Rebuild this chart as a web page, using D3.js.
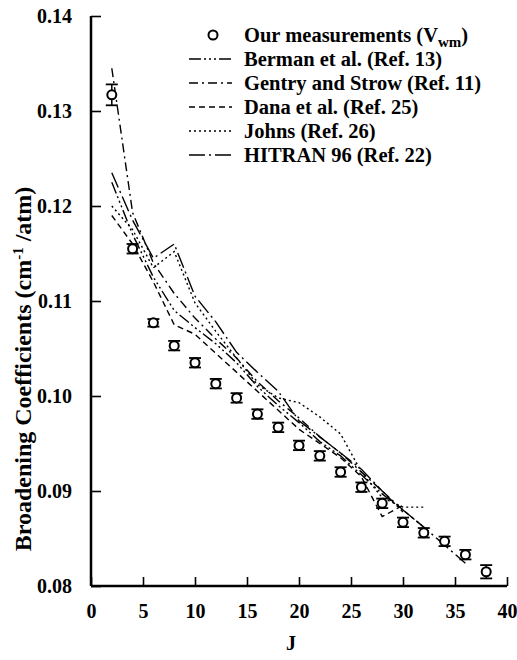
<!DOCTYPE html>
<html>
<head>
<meta charset="utf-8">
<script src="https://cdn.jsdelivr.net/npm/d3@7"></script>
<style>
  body { margin: 0; background: #fff; }
</style>
</head>
<body>
<svg width="517" height="660"></svg>
<script>
// measured points (V_wm)
var measJ = [2, 4, 6, 8, 10, 12, 14, 16, 18, 20, 22, 24, 26, 28, 30, 32, 34, 36, 38];
var measVal = [0.1317, 0.1155, 0.1077, 0.1053, 0.1035, 0.1013, 0.0998, 0.0981, 0.0967, 0.0948,
               0.0937, 0.0920, 0.0904, 0.0887, 0.0867, 0.0856, 0.0847, 0.0833, 0.0815];
var measErr = [0.0011, 0.0005, 0.0004, 0.0005, 0.0005, 0.0005, 0.0005, 0.0005, 0.0005, 0.0005,
               0.0005, 0.0005, 0.0005, 0.0005, 0.0005, 0.0005, 0.0005, 0.0005, 0.0007];

// other calculations / databases
var bermanJ = [2, 4, 6, 8, 10, 12, 14, 16, 18, 20, 22, 24, 26, 28, 30, 32];
var bermanVal = [0.1225, 0.1170, 0.1125, 0.1090, 0.1072, 0.1055, 0.1035, 0.1010, 0.0990, 0.0972,
                 0.0952, 0.0937, 0.0917, 0.0897, 0.0880, 0.0862];
var gentryJ = [2, 4, 6, 8, 10, 12, 14, 16, 18, 20, 22, 24, 26, 28, 30];
var gentryVal = [0.1345, 0.1193, 0.1140, 0.1108, 0.1082, 0.1060, 0.1040, 0.1015, 0.0995, 0.0977,
                 0.0957, 0.0940, 0.0920, 0.0900, 0.0878];
var danaJ = [2, 4, 6, 8, 10, 12, 14, 16, 18, 20, 22, 24, 26, 28, 30];
var danaVal = [0.1190, 0.1160, 0.1120, 0.1075, 0.1065, 0.1045, 0.1025, 0.1005, 0.0985, 0.0965,
               0.0950, 0.0935, 0.0915, 0.0873, 0.0885];
var johnsJ = [2, 4, 6, 8, 10, 12, 14, 16, 18, 20, 22, 24, 26, 28, 30, 32];
var johnsVal = [0.1200, 0.1175, 0.1135, 0.1152, 0.1098, 0.1068, 0.1040, 0.1012, 0.0998, 0.0993,
                0.0978, 0.0960, 0.0920, 0.0893, 0.0883, 0.0883];
var hitranJ = [2, 4, 6, 8, 10, 12, 14, 16, 18, 20, 22, 24, 26, 28, 30, 32, 34, 36];
var hitranVal = [0.1235, 0.1185, 0.1145, 0.1160, 0.1105, 0.1078, 0.1046, 0.1025, 0.1005, 0.0974,
                 0.0957, 0.0940, 0.0923, 0.0900, 0.0880, 0.0862, 0.0843, 0.0824];

var xTicks = [0, 5, 10, 15, 20, 25, 30, 35, 40];
var yTicks = [0.08, 0.09, 0.10, 0.11, 0.12, 0.13, 0.14];

var series = [
  {name: "Berman et al. (Ref. 13)", J: bermanJ, v: bermanVal, dash: "12,3,2,3,2,3,2,3"},
  {name: "Gentry and Strow (Ref. 11)", J: gentryJ, v: gentryVal, dash: "9,4,2,4"},
  {name: "Dana et al. (Ref. 25)", J: danaJ, v: danaVal, dash: "6,4"},
  {name: "Johns (Ref. 26)", J: johnsJ, v: johnsVal, dash: "2,3"},
  {name: "HITRAN 96 (Ref. 22)", J: hitranJ, v: hitranVal, dash: "16,4,2,4"}
];

var svg = d3.select("svg");
var FONT = "Liberation Serif";
var FS = 20;

var x = d3.scaleLinear().domain([0, 40]).range([91, 507]);
var y = d3.scaleLinear().domain([0.08, 0.14]).range([586, 16]);

// axes
svg.append("g")
    .attr("transform", "translate(0,586)")
    .call(d3.axisBottom(x).tickValues(xTicks).tickSize(-9).tickPadding(18).tickFormat(d3.format("d")))
    .call(function(g) {
      g.select(".domain").attr("stroke-width", 2.5).attr("d", "M91,0H507");
      g.selectAll(".tick line").attr("stroke-width", 1.6);
      g.selectAll(".tick text").attr("font-family", FONT).attr("font-weight", "bold")
          .attr("font-size", FS).attr("fill", "#000");
    });

svg.append("g")
    .attr("transform", "translate(91,0)")
    .call(d3.axisLeft(y).tickValues(yTicks).tickSize(-10).tickPadding(19).tickFormat(d3.format(".2f")))
    .call(function(g) {
      g.select(".domain").attr("stroke-width", 2.5).attr("d", "M0,16V586");
      g.selectAll(".tick line").attr("stroke-width", 1.6);
      g.selectAll(".tick text").attr("font-family", FONT).attr("font-weight", "bold")
          .attr("font-size", FS).attr("fill", "#000");
    });

// axis titles
svg.append("text")
    .attr("x", 291).attr("y", 650)
    .attr("text-anchor", "middle")
    .attr("font-family", FONT).attr("font-weight", "bold")
    .attr("font-size", FS)
    .text("J");

var yt = svg.append("text")
    .attr("transform", "translate(31,369) rotate(-90)")
    .attr("text-anchor", "middle")
    .attr("font-family", FONT).attr("font-weight", "bold")
    .attr("font-size", 24);
yt.append("tspan").text("Broadening Coefficients (cm");
yt.append("tspan").attr("dy", -8).attr("font-size", 15).text("-1");
yt.append("tspan").attr("dy", 8).text(" /atm)");

// model lines
var line = d3.line().x(function(d) { return x(d[0]); }).y(function(d) { return y(d[1]); });

series.forEach(function(s) {
  svg.append("path")
      .datum(s.J.map(function(j, i) { return [j, s.v[i]]; }))
      .attr("fill", "none")
      .attr("stroke", "#000")
      .attr("stroke-width", 1.4)
      .attr("stroke-dasharray", s.dash)
      .attr("d", line);
});

// measurements with error bars
var meas = measJ.map(function(j, i) { return {J: j, v: measVal[i], e: measErr[i]}; });
var mg = svg.append("g").attr("stroke", "#000").attr("fill", "none");
meas.forEach(function(d) {
  var cx = x(d.J), y0 = y(d.v - d.e), y1 = y(d.v + d.e);
  mg.append("line").attr("x1", cx).attr("x2", cx).attr("y1", y0).attr("y2", y1).attr("stroke-width", 1.5);
  mg.append("line").attr("x1", cx - 6).attr("x2", cx + 6).attr("y1", y0).attr("y2", y0).attr("stroke-width", 1.8);
  mg.append("line").attr("x1", cx - 6).attr("x2", cx + 6).attr("y1", y1).attr("y2", y1).attr("stroke-width", 1.8);
  mg.append("circle").attr("cx", cx).attr("cy", y(d.v)).attr("r", 4.5)
      .attr("fill", "#fff").attr("stroke-width", 2);
});

// legend
var lg = svg.append("g").attr("transform", "translate(189,0)");
var rowY = [35, 59, 83, 107, 131, 155];
var LFS = 20.5;
lg.append("circle").attr("cx", 24).attr("cy", rowY[0]).attr("r", 4.5)
    .attr("fill", "#fff").attr("stroke", "#000").attr("stroke-width", 2);
var t0 = lg.append("text").attr("x", 55).attr("y", rowY[0] + 7)
    .attr("font-family", FONT).attr("font-weight", "bold").attr("font-size", LFS);
t0.append("tspan").text("Our measurements (V");
t0.append("tspan").attr("dy", 5).attr("font-size", 15).text("wm");
t0.append("tspan").attr("dy", -5).text(")");

series.forEach(function(s, i) {
  var ry = rowY[i + 1];
  lg.append("line").attr("x1", 0).attr("x2", 43).attr("y1", ry).attr("y2", ry)
      .attr("stroke", "#000").attr("stroke-width", 1.4).attr("stroke-dasharray", s.dash);
  lg.append("text").attr("x", 55).attr("y", ry + 7)
      .attr("font-family", FONT).attr("font-weight", "bold").attr("font-size", LFS)
      .text(s.name);
});
</script>
</body>
</html>
